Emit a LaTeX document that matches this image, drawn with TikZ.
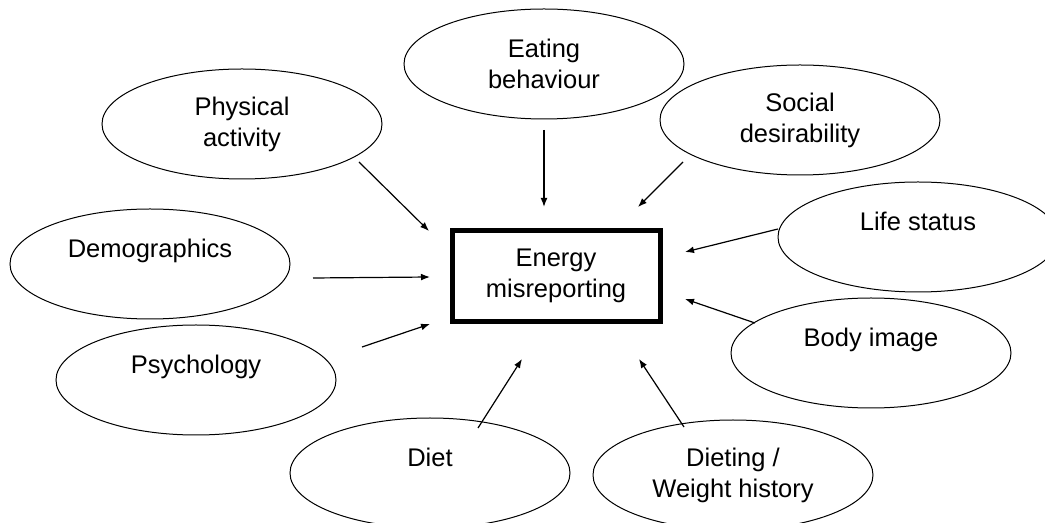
\documentclass[tikz,border=0pt]{standalone}
\usepackage{fontspec}
\setmainfont{Liberation Sans}
\usetikzlibrary{shapes.geometric,arrows.meta}

\tikzset{
    factor/.style={ellipse, draw, line width=.5pt, minimum width=140pt, minimum height=55pt,
        inner sep=0pt, align=center, font=\fontsize{12.75}{15.5}\selectfont},
    target/.style={rectangle, draw, line width=2.5pt, minimum width=104pt, minimum height=45.5pt,
        inner sep=0pt, align=center, font=\fontsize{12.75}{15.5}\selectfont},
    feed/.style={line width=.6pt, -{Latex[length=4.5pt,width=3.4pt]}}
}

\begin{document}
\begin{tikzpicture}[x=.5pt,y=-.5pt]

\useasboundingbox (0,0) rectangle (1045,523);
\clip (0,0) rectangle (1045,523);

\node[target] (energy) at (556,276) {Energy\\misreporting};

% the factors round the box
\foreach \name/\px/\py/\label in {
        eating/544/64/{Eating\\behaviour},
        physical/242/124/{Physical\\activity},
        social/800/120/{Social\\desirability},
        demographics/150/264/{Demographics\\\mbox{}},
        psychology/196/380/{Psychology\\\mbox{}},
        life/918/237/{Life status\\\mbox{}},
        body/871/353/{Body image\\\mbox{}},
        diet/430/473/{Diet\\\mbox{}},
        dieting/733/475/{Dieting /\\Weight history}}
    \node[factor] (\name) at (\px,\py) {\label};

% free ends of the arrows
\coordinate (physical-out) at (359,162);     \coordinate (physical-in) at (429,231);
\coordinate (eating-out) at (544,130);       \coordinate (eating-in) at (544,207);
\coordinate (social-out) at (683,162);       \coordinate (social-in) at (638,207);
\coordinate (demographics-out) at (313,278); \coordinate (demographics-in) at (430,277);
\coordinate (psychology-out) at (362,347);   \coordinate (psychology-in) at (430,324);
\coordinate (life-out) at (778,229);         \coordinate (life-in) at (685,252);
\coordinate (body-out) at (755,323);         \coordinate (body-in) at (685,299);
\coordinate (diet-out) at (478,428);         \coordinate (diet-in) at (522,359);
\coordinate (dieting-out) at (684,427);      \coordinate (dieting-in) at (639,359);

\foreach \src in {physical, eating, social, demographics, psychology, life, body, diet, dieting}
    \draw[feed] (\src-out) -- (\src-in);

\end{tikzpicture}
\end{document}
